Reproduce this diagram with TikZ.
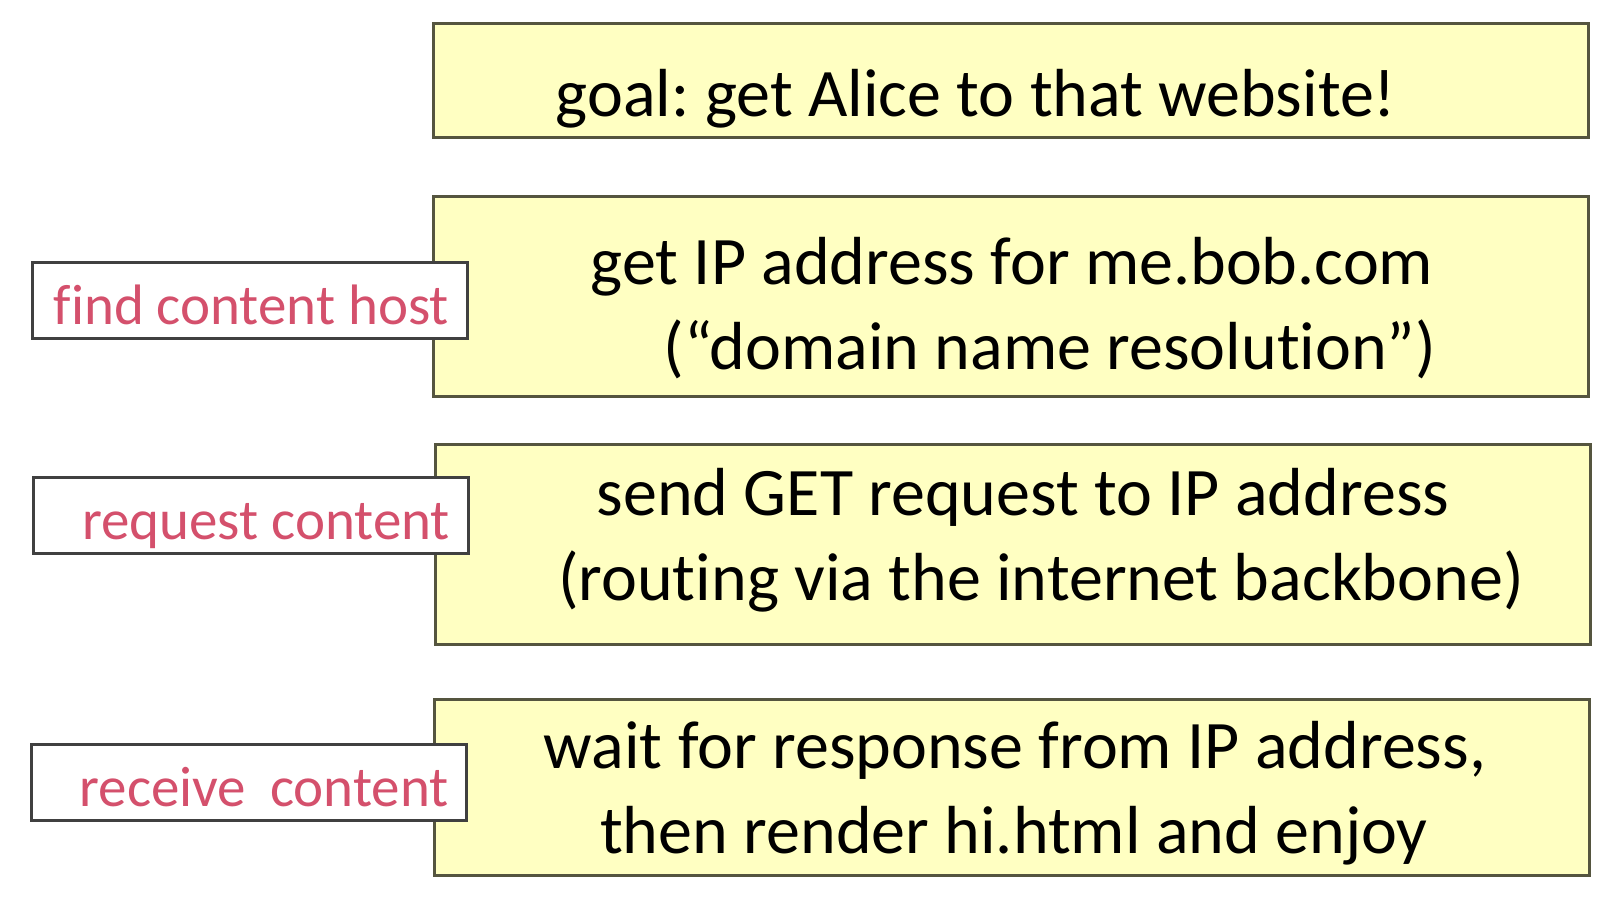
\documentclass[tikz,border=0pt]{standalone}
\usepackage{fontspec}
\setmainfont{Carlito}[Ligatures=NoCommon]
\frenchspacing

\definecolor{stepyellow}{HTML}{FFFFC2}
\definecolor{stepedge}{HTML}{55553F}
\definecolor{tagred}{HTML}{D4506C}

\newcommand{\tagtext}[1]{\makebox[399pt][r]{#1}}

\tikzset{
  stepbox/.style={draw=stepedge, fill=stepyellow, line width=3pt,
    minimum width=1155pt, inner sep=0pt},
  steptext/.style={font=\fontsize{68}{82}\selectfont, anchor=base, inner sep=0pt},
  tagbox/.style={draw=black!75, fill=white, line width=3pt,
    minimum width=435pt, minimum height=76pt,
    inner xsep=18pt, inner ysep=0pt,
    text height=48pt, text depth=0pt, text=tagred,
    font=\fontsize{57}{68}\selectfont}
}

\begin{document}
\begin{tikzpicture}[x=1pt, y=-1pt]
\useasboundingbox (0,0) rectangle (1616,898);

% the four steps
\node[stepbox, minimum height=114pt] (goal) at (1010.5,80) {};
\node[stepbox, minimum height=200pt] (dns)  at (1010.5,296) {};
\node[stepbox, minimum height=200pt] (get)  at (1012.5,544) {};
\node[stepbox, minimum height=176pt] (wait) at (1011.5,787) {};

\node[steptext] (goal-1) at (976,116) {goal: get Alice to that website!};
\node[steptext] (dns-1)  at (1012,284) {get IP address for me.bob.com};
\node[steptext] (dns-2)  at (1050,369) {(“domain name resolution”)};
\node[steptext] (get-1)  at (1023,515) {send GET request to IP address};
\node[steptext] (get-2)  at (1041,600) {(routing via the internet backbone)};
\node[steptext] (wait-1) at (1015,768) {wait for response from IP address,};
\node[steptext] (wait-2) at (1014,853) {then render hi.html and enjoy};

% tags on the left
\node[tagbox] (find)    at (249.5,300.5) {\tagtext{find content host}};
\node[tagbox] (request) at (250.5,515.5) {\tagtext{request content}};
\node[tagbox] (receive) at (249,782.5)   {\tagtext{receive\hspace{0.42em}content}};

\end{tikzpicture}
\end{document}
